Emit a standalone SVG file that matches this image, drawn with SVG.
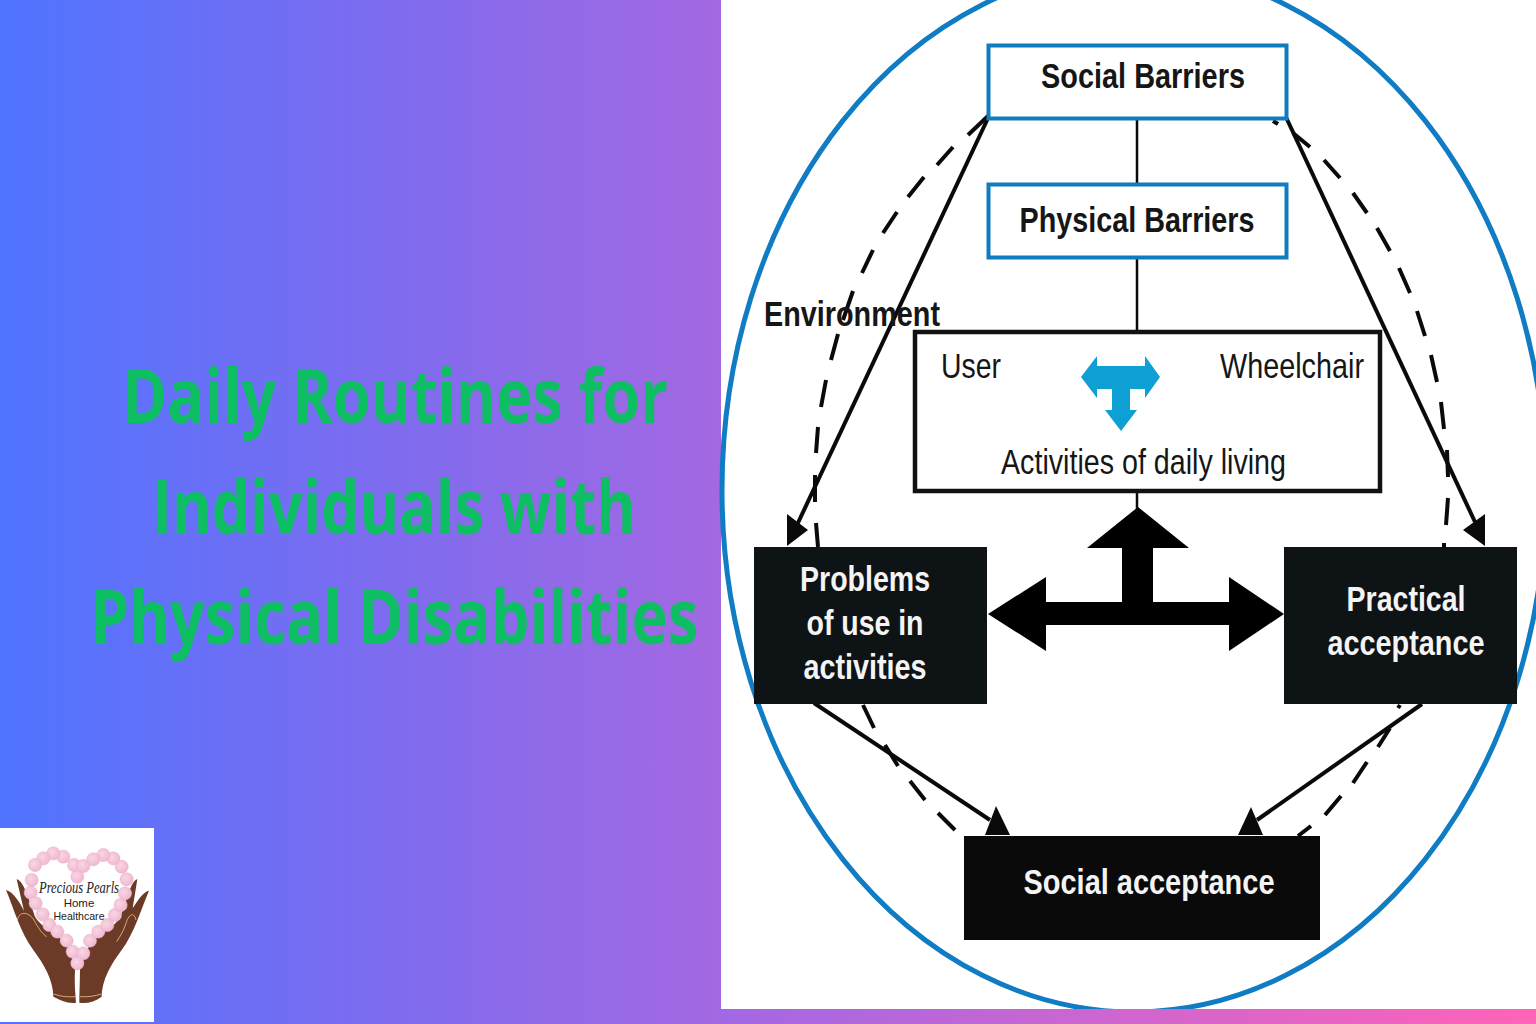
<svg xmlns="http://www.w3.org/2000/svg" width="1536" height="1024" viewBox="0 0 1536 1024">
<defs>
<linearGradient id="bg" x1="0" y1="0" x2="1" y2="0"><stop offset="0" stop-color="#4f74ff"/><stop offset="0.5" stop-color="#7b6cf0"/><stop offset="1" stop-color="#a468e2"/></linearGradient>
<linearGradient id="bar" x1="0" y1="0" x2="1" y2="0"><stop offset="0" stop-color="#a268e4"/><stop offset="1" stop-color="#ff63b8"/></linearGradient>
<radialGradient id="bead" cx="0.4" cy="0.4" r="0.7"><stop offset="0" stop-color="#f9d6e4"/><stop offset="1" stop-color="#eeb4cd"/></radialGradient>
</defs>
<style>
.t{font-family:"Liberation Sans",Arial,sans-serif;fill:#161616}
.b{font-weight:700;font-size:35px}
.n{font-size:35px}
.w{fill:#f4f4f4;font-weight:700;font-size:35px;font-family:"Liberation Sans",Arial,sans-serif}
.title{font-family:"Open Sans","Noto Sans",sans-serif;font-weight:700;font-size:75px;fill:#0dbf62}
.sl{fill:none;stroke:#0a0a0a;stroke-width:4}
.th{fill:none;stroke:#0a0a0a;stroke-width:2.500}
.da{fill:none;stroke:#0a0a0a;stroke-width:4}
.bx{fill:#fff;stroke:#0f7cc0;stroke-width:4}
.dk{fill:#0e1316}
.hand{fill:#6b3b27}
.crease{fill:none;stroke:#d9a878;stroke-width:3}
.bd{fill:url(#bead);stroke:#e7a8c4;stroke-width:1}
.head{fill:#0a0a0a}
</style>
<rect width="721" height="1024" fill="url(#bg)"/>
<rect x="721" width="815" height="1009" fill="#fff"/>
<g id="title">
<text class="title" x="395" y="423" text-anchor="middle" textLength="546" lengthAdjust="spacingAndGlyphs">Daily Routines for</text>
<text class="title" x="394" y="534" text-anchor="middle" textLength="484" lengthAdjust="spacingAndGlyphs">Individuals with</text>
<text class="title" x="394.500" y="644" text-anchor="middle" textLength="608" lengthAdjust="spacingAndGlyphs">Physical Disabilities</text>
</g>
<g id="logo">
<rect x="0" y="828" width="154" height="194" fill="#fff"/>
<g transform="translate(0,820) scale(0.3333)">
<path class="hand" d="M18 210C38 214 58 245 72 272L50 178C68 180 85 230 105 290C122 322 172 340 200 372L226 440C222 480 226 520 228 548C205 552 180 540 160 530C160 480 130 430 100 390C62 340 40 262 18 210Z"/>
<path class="hand" d="M447 212C427 216 412 245 398 265L412 178C396 180 382 230 362 290C345 322 295 340 270 372L240 440C240 480 238 520 238 548C260 552 285 545 305 530C305 480 335 430 365 390C403 340 425 262 447 212Z"/>
<path class="crease" d="M52 300C60 268 90 280 102 300C112 320 125 340 140 350M408 300C402 272 385 285 378 310C372 330 360 350 350 365M160 522C185 530 205 532 226 530M240 530C262 532 285 528 305 522"/>
<g id="beads">
<circle class="bd" cx="232" cy="170" r="20"/><circle class="bd" cx="222" cy="135" r="20"/><circle class="bd" cx="250" cy="138" r="20"/><circle class="bd" cx="190" cy="110" r="20"/><circle class="bd" cx="160" cy="100" r="20"/><circle class="bd" cx="130" cy="115" r="20"/><circle class="bd" cx="105" cy="135" r="20"/><circle class="bd" cx="95" cy="180" r="20"/><circle class="bd" cx="92" cy="218" r="20"/><circle class="bd" cx="107" cy="250" r="20"/><circle class="bd" cx="128" cy="283" r="20"/><circle class="bd" cx="148" cy="315" r="20"/><circle class="bd" cx="172" cy="335" r="20"/><circle class="bd" cx="200" cy="362" r="20"/><circle class="bd" cx="218" cy="395" r="20"/><circle class="bd" cx="250" cy="400" r="20"/><circle class="bd" cx="270" cy="362" r="20"/><circle class="bd" cx="295" cy="335" r="20"/><circle class="bd" cx="322" cy="315" r="20"/><circle class="bd" cx="345" cy="285" r="20"/><circle class="bd" cx="362" cy="255" r="20"/><circle class="bd" cx="375" cy="220" r="20"/><circle class="bd" cx="380" cy="178" r="20"/><circle class="bd" cx="365" cy="140" r="20"/><circle class="bd" cx="340" cy="115" r="20"/><circle class="bd" cx="310" cy="105" r="20"/><circle class="bd" cx="280" cy="118" r="20"/><circle class="bd" cx="232" cy="430" r="20"/>
</g>
</g>
<text x="79" y="893" text-anchor="middle" font-family="Liberation Serif,serif" font-style="italic" font-size="17" fill="#222" textLength="80" lengthAdjust="spacingAndGlyphs">Precious Pearls</text>
<text x="79" y="907" text-anchor="middle" font-family="Liberation Sans,sans-serif" font-size="11.500" fill="#222">Home</text>
<text x="79" y="920" text-anchor="middle" font-family="Liberation Sans,sans-serif" font-size="11.500" fill="#222" textLength="51" lengthAdjust="spacingAndGlyphs">Healthcare</text>
</g>
<ellipse id="ring" cx="1134" cy="490" rx="412" ry="522" fill="none" stroke="#0f7cc4" stroke-width="5"/>
<rect x="721" y="1009" width="815" height="15" fill="url(#bar)"/>
<g id="connectors">
<path class="da" d="M988 116L968 135M953 147L937 165M924 177L908 197M897 212L883 233M873 250L862 273M853 291L843 320M838 334L831 360M826 380L821 407M818 427L816 453M815 475L815 502M816 523L818 547"/>
<path class="da" d="M1273 121L1278 124M1293 133L1310 147M1324 160L1340 178M1353 193L1367 213M1377 228L1390 251M1399 268L1410 293M1417 311L1425 336M1431 355L1437 382M1441 402L1444 429M1447 450L1448 477M1448 498L1446 525M1444 543L1444 547"/>
<path class="da" d="M863 705L874 728M885 745L898 766M910 781L925 800M938 813L955 830"/>
<path class="da" d="M1400 705L1398 708M1390 728L1378 747M1367 762L1353 783M1341 796L1325 815M1311 826L1298 836"/>
<path class="th" d="M1137 118V184M1137 258V331M1137 491V512"/>
<path class="sl" d="M989 116L797 525"/>
<path class="sl" d="M1285 115L1475 522"/>
<path class="sl" d="M814 703L990 820"/>
<path class="sl" d="M1422 704L1257 820"/>
<polygon class="head" points="787,514 808,530 787,546"/>
<polygon class="head" points="1485,514 1463,530 1485,546"/>
<polygon class="head" points="996,806 985,835 1010,835"/>
<polygon class="head" points="1251,807 1238,835 1263,835"/>
<path id="big-arrow" d="M988 614L1046 577V602H1122V548H1087L1138 507L1189 548H1153V602H1229V577L1284 614L1229 651V625H1046V651Z" fill="#000"/>
</g>
<g id="social-barriers"><rect class="bx" x="988.500" y="45.500" width="298" height="73"/><text class="t b" x="1143" y="88" text-anchor="middle" textLength="204" lengthAdjust="spacingAndGlyphs">Social Barriers</text></g>
<g id="physical-barriers"><rect class="bx" x="988.500" y="184.500" width="298" height="73"/><text class="t b" x="1137" y="232" text-anchor="middle" textLength="235" lengthAdjust="spacingAndGlyphs">Physical Barriers</text></g>
<text id="environment" class="t b" x="764" y="326" textLength="176" lengthAdjust="spacingAndGlyphs">Environment</text>
<g id="user-wheelchair">
<rect x="915" y="332" width="465" height="159" fill="#fff" stroke="#111" stroke-width="4.500"/>
<text class="t n" x="941" y="378" textLength="60" lengthAdjust="spacingAndGlyphs">User</text>
<text class="t n" x="1220" y="378" textLength="144" lengthAdjust="spacingAndGlyphs">Wheelchair</text>
<text class="t n" x="1001" y="474" textLength="285" lengthAdjust="spacingAndGlyphs">Activities of daily living</text>
<path d="M1081 377L1097 356V366H1145V356L1160 377L1145 398V389H1130V410H1137L1121 431L1105 410H1112V389H1097V398Z" fill="#0ea0d4"/>
</g>
<g id="problems"><rect class="dk" x="754" y="547" width="233" height="157"/>
<text class="w" x="865" y="591" text-anchor="middle" textLength="130" lengthAdjust="spacingAndGlyphs">Problems</text>
<text class="w" x="865" y="635" text-anchor="middle" textLength="117" lengthAdjust="spacingAndGlyphs">of use in</text>
<text class="w" x="865" y="679" text-anchor="middle" textLength="123" lengthAdjust="spacingAndGlyphs">activities</text></g>
<g id="practical"><rect class="dk" x="1284" y="547" width="233" height="157"/>
<text class="w" x="1406" y="611" text-anchor="middle" textLength="119" lengthAdjust="spacingAndGlyphs">Practical</text>
<text class="w" x="1406" y="655" text-anchor="middle" textLength="157" lengthAdjust="spacingAndGlyphs">acceptance</text></g>
<g id="social-acceptance"><rect x="964" y="836" width="356" height="104" fill="#0a0a0a"/>
<text class="w" x="1149" y="894" text-anchor="middle" textLength="251" lengthAdjust="spacingAndGlyphs">Social acceptance</text></g>
</svg>
